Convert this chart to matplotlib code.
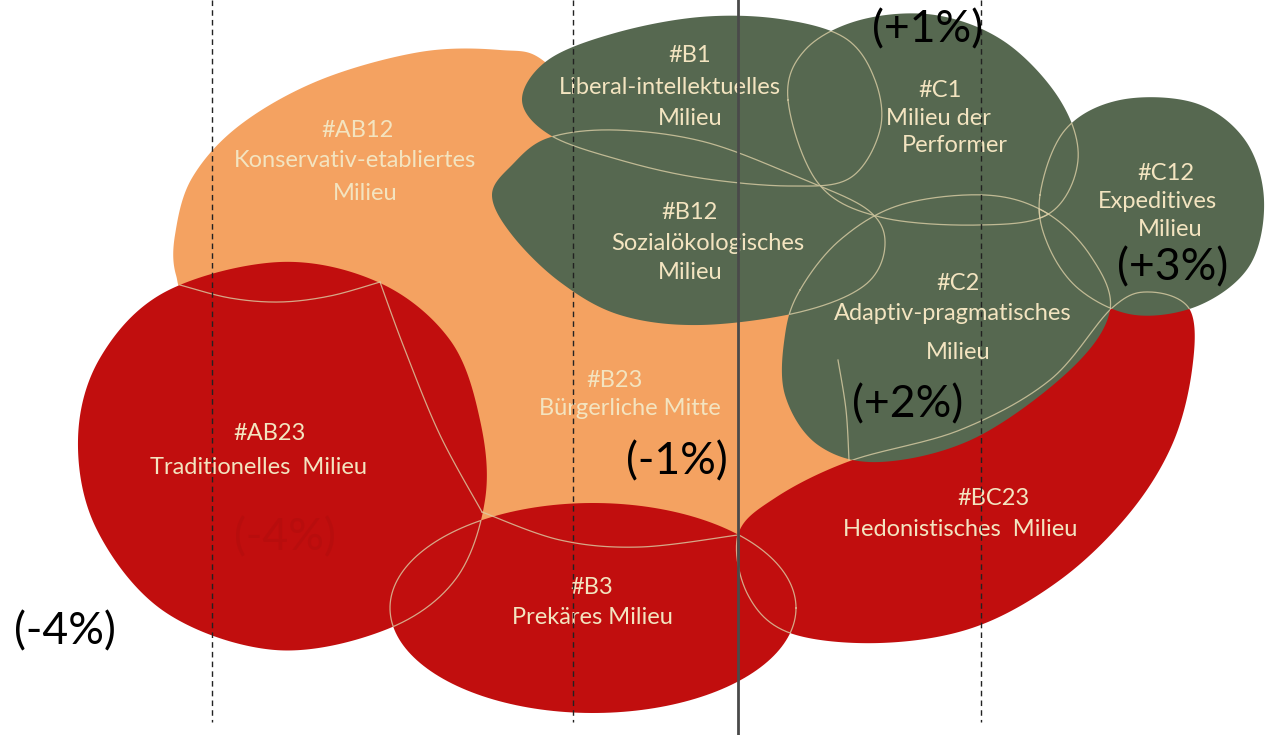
import numpy as np
import matplotlib
matplotlib.use("Agg")
from matplotlib import pyplot as plt
from matplotlib.patches import Polygon

# milieu data
codes = ["#AB12", "#B1", "#C1", "#C12", "#B12", "#C2", "#B23", "#AB23", "#B3", "#BC23"]
names = ["Konservativ-etabliertes\nMilieu", "Liberal-intellektuelles\nMilieu", "Milieu der\nPerformer",
         "Expeditives\nMilieu", "Sozialökologisches\nMilieu", "Adaptiv-pragmatisches\nMilieu",
         "Bürgerliche Mitte", "Traditionelles  Milieu", "Prekäres Milieu", "Hedonistisches  Milieu"]
groups = ["orange", "green", "green", "green", "green", "green", "orange", "red", "red", "red"]

pct_labels = ["(+1%)", "(+3%)", "(+2%)", "(-1%)", "(-4%)", "(-4%)"]

colors = {"orange": "#F4A261", "red": "#C10E0E", "green": "#566850"}
text_col = "#F3E4C0"
line_col = "#DCCFA6"


def blob(pts, n=40, closed=True):
    P = np.array(pts, float)
    m = len(P)
    t = np.linspace(0, 1, n, endpoint=False)[:, None]
    out = []
    rng = range(m) if closed else range(m - 1)
    for i in rng:
        if closed:
            p0, p1, p2, p3 = P[i - 1], P[i], P[(i + 1) % m], P[(i + 2) % m]
        else:
            p0, p1, p2, p3 = P[max(i - 1, 0)], P[i], P[i + 1], P[min(i + 2, m - 1)]
        seg = 0.5 * ((2 * p1) + (-p0 + p2) * t + (2 * p0 - 5 * p1 + 4 * p2 - p3) * t ** 2
                     + (-p0 + 3 * p1 - 3 * p2 + p3) * t ** 3)
        out.append(seg)
    if not closed:
        out.append(P[-1:])
    return np.vstack(out)


def ellipse(cx, cy, w, h, n=200):
    a = np.linspace(0, 2 * np.pi, n)
    return np.column_stack([cx + w / 2 * np.cos(a), cy + h / 2 * np.sin(a)])


# diagram geometry (pixel layout)
orange_shape = blob([(175, 235), (192, 178), (240, 125), (320, 80), (420, 52), (500, 50), (545, 62),
                     (600, 130), (700, 230), (800, 290), (858, 380), (858, 455), (780, 520), (600, 560),
                     (450, 520), (300, 400), (195, 305), (176, 275)])
orange_lines = [
    blob([(180, 285), (230, 298), (280, 302), (330, 296), (380, 282)], closed=False),
    blob([(380, 282), (405, 350), (440, 435), (482, 512)], closed=False),
    blob([(482, 512), (560, 540), (640, 547), (738, 535)], closed=False),
    blob([(838, 360), (846, 410), (849, 460)], closed=False),
]

shapes = {
    "#AB23": blob([(280, 262), (380, 283), (450, 340), (480, 420), (485, 500), (455, 580), (385, 630),
                   (275, 650), (165, 612), (97, 530), (78, 440), (100, 358), (165, 292)]),
    "#B3": ellipse(593, 608, 406, 210),
    "#BC23": blob([(738, 535), (775, 498), (850, 461), (960, 430), (1050, 380), (1112, 308), (1150, 292),
                   (1190, 310), (1192, 370), (1172, 445), (1128, 515), (1060, 580), (975, 627),
                   (880, 643), (790, 633), (748, 595)]),
    "#B1": blob([(522, 100), (548, 60), (615, 33), (700, 17), (780, 19), (845, 38), (875, 80), (880, 130),
                 (850, 178), (790, 186), (700, 178), (620, 160), (550, 135)]),
    "#C1": blob([(788, 100), (805, 50), (860, 20), (935, 15), (1005, 42), (1060, 100), (1078, 160),
                 (1050, 213), (980, 225), (880, 217), (818, 183)]),
    "#C12": blob([(1040, 195), (1065, 130), (1120, 100), (1195, 103), (1245, 140), (1264, 200),
                  (1250, 265), (1200, 305), (1135, 315), (1080, 290), (1048, 245)]),
    "#B12": blob([(492, 195), (512, 165), (548, 138), (615, 130), (705, 142), (800, 178), (868, 210),
                  (885, 245), (865, 285), (800, 312), (700, 325), (620, 315), (560, 282), (512, 235)]),
    "#C2": blob([(800, 290), (840, 240), (900, 205), (985, 195), (1045, 212), (1090, 255), (1110, 310),
                 (1070, 370), (975, 438), (880, 462), (818, 445), (785, 395), (785, 335)]),
}
order = ["#AB23", "#B3", "#BC23", "#B1", "#C1", "#C12", "#B12", "#C2"]

code_pos = {
    "#AB12": (358, 130), "#B1": (690, 55), "#C1": (940, 90), "#C12": (1166, 173), "#B12": (690, 212),
    "#C2": (958, 283), "#B23": (615, 380), "#AB23": (270, 433), "#B3": (592, 588), "#BC23": (993, 498),
}
name_pos = {
    "#AB12": [(355, 160), (365, 193)], "#B1": [(670, 87), (690, 118)], "#C1": [(938, 118), (955, 145)],
    "#C12": [(1157, 201), (1170, 229)], "#B12": [(708, 243), (690, 272)], "#C2": [(953, 313), (958, 352)],
    "#B23": [(630, 408)], "#AB23": [(258, 467)], "#B3": [(592, 617)], "#BC23": [(960, 530)],
}
pct_pos = [(928, 30), (1173, 268), (908, 405), (677, 462), (285, 538), (65, 632)]
pct_cols = ["black", "black", "black", "black", "#B80D0D", "black"]

plt.rcParams["font.family"] = ["Lato", "DejaVu Sans"]

fig = plt.figure(figsize=(12.66, 7.35), dpi=100)
ax = fig.add_axes([0, 0, 1, 1])
ax.set_xlim(0, 1266)
ax.set_ylim(735, 0)
ax.axis("off")

ax.add_patch(Polygon(orange_shape, closed=True, facecolor=colors["orange"], edgecolor="none", zorder=1))
clips = {}
for code in order:
    g = groups[codes.index(code)]
    ax.add_patch(Polygon(shapes[code], closed=True, facecolor=colors[g], edgecolor="none", zorder=1))
    clips[code] = Polygon(shapes[code], closed=True, transform=ax.transData)

# hidden boundaries show through as thin light lines
for seg in orange_lines:
    ax.plot(seg[:, 0], seg[:, 1], color=line_col, lw=0.9, alpha=0.8, zorder=2)
for i, ci in enumerate(order):
    for j, cj in enumerate(order):
        if i == j:
            continue
        gi = groups[codes.index(ci)]
        gj = groups[codes.index(cj)]
        if i < j or gi == gj:
            pts = np.vstack([shapes[ci], shapes[ci][:1]])
            ln, = ax.plot(pts[:, 0], pts[:, 1], color=line_col, lw=0.9, alpha=0.8, zorder=2)
            ln.set_clip_path(clips[cj])

for code, name in zip(codes, names):
    x, y = code_pos[code]
    ax.text(x, y, code, color=text_col, fontsize=17, ha="center", va="center", zorder=3)
    for line, (nx, ny) in zip(name.split("\n"), name_pos[code]):
        ax.text(nx, ny, line, color=text_col, fontsize=17, ha="center", va="center", zorder=3)

for lab, (x, y), c in zip(pct_labels, pct_pos, pct_cols):
    ax.text(x, y, lab, color=c, fontsize=32, ha="center", va="center", zorder=5)

for x in [212, 573, 981]:
    ax.plot([x, x], [0, 722], color="#222222", lw=1, ls=(0, (4, 3)), zorder=4)
ax.plot([738, 738], [0, 735], color="#4a4a4a", lw=2, zorder=4)

fig.savefig("out.png", dpi=100, facecolor="white")
